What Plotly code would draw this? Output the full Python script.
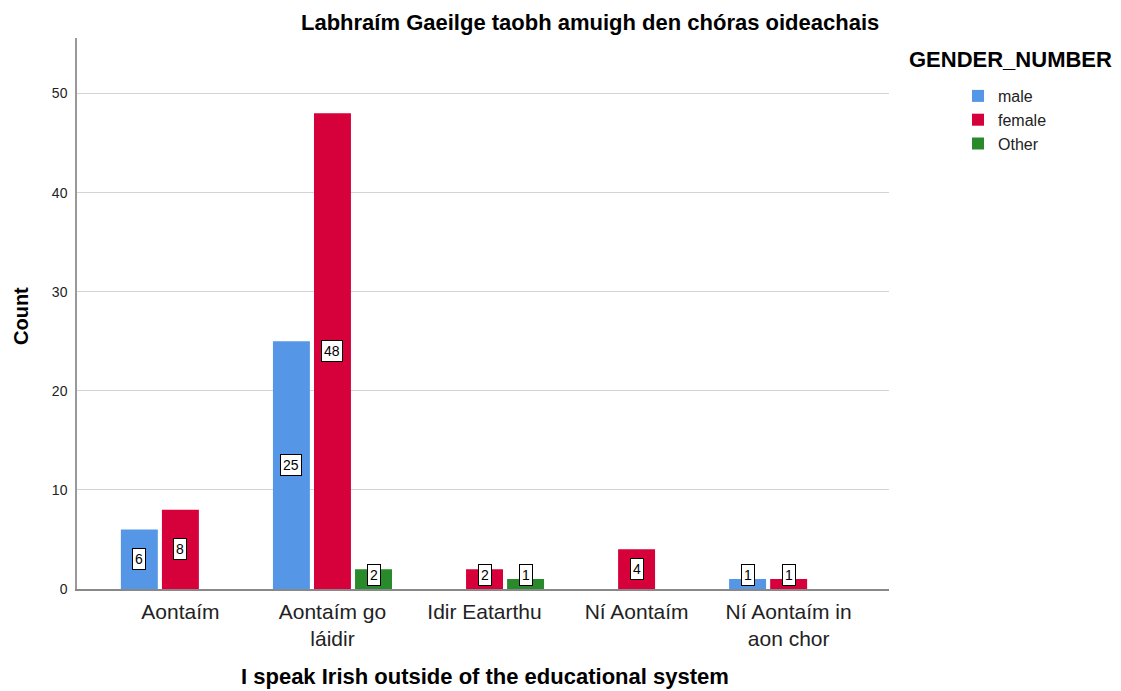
import plotly.graph_objects as go

categories = ["Aontaím", "Aontaím go<br>láidir", "Idir Eatarthu", "Ní Aontaím", "Ní Aontaím in<br>aon chor"]
male = [6, 25, 0, 0, 1]
female = [8, 48, 2, 4, 1]
other = [0, 2, 1, 0, 0]
series_names = ["male", "female", "Other"]
colors = ["#5596E6", "#D6003A", "#288A2A"]

OFF = 8  # default page body margin
W, H = 1121 - OFF, 691 - OFF
L, T, R, B = 77 - OFF, 38 - OFF, 232, 102
pw = W - L - R
ph = H - T - B

fig = go.Figure()
for name, vals, col in zip(series_names, [male, female, other], colors):
    fig.add_trace(go.Bar(
        x=categories, y=[v if v else None for v in vals], name=name,
        marker=dict(color=col, line=dict(width=0)),
    ))

slot = 152 * (1 - 0.19) / 3
for k, vals in enumerate([male, female, other]):
    for c, v in zip(categories, vals):
        if v:
            fig.add_annotation(
                x=c, y=max(v / 2, 1.46), xref="x", yref="y",
                text=str(v), showarrow=False, xshift=(k - 1) * slot,
                xanchor="center", yanchor="middle",
                font=dict(family="Liberation Sans, Arial", size=14, color="black"),
                bgcolor="white", bordercolor="black", borderwidth=1, borderpad=2,
            )

# reference-pixel helpers
def px_x(x):
    return (x - OFF - L) / pw

def px_y(y):
    return (H - B - (y - OFF)) / ph

FONT = "Liberation Sans, Arial"
def label(x, y, text, size, angle=0):
    fig.add_annotation(x=px_x(x), y=px_y(y), xref="paper", yref="paper",
                       xanchor="center", yanchor="middle", textangle=angle,
                       text=text, showarrow=False,
                       font=dict(family=FONT, size=size, color="black"))

label(590, 22, "<b>Labhraím Gaeilge taobh amuigh den chóras oideachais</b>", 22)
label(485, 676, "<b>I speak Irish outside of the educational system</b>", 22)
label(21, 316, "<b>Count</b>", 20, -90)
label(1010, 60, "<b>GENDER_NUMBER</b>", 22)

fig.update_layout(
    width=W, height=H,
    margin=dict(l=L, r=R, t=T, b=B),
    paper_bgcolor="white", plot_bgcolor="white",
    barmode="group", bargap=0.19, bargroupgap=0.1,
    font=dict(family=FONT, color="black"),
    showlegend=True,
    legend=dict(x=px_x(958), y=px_y(79), xanchor="left", yanchor="top",
                font=dict(size=16, color="#222"), tracegroupgap=0,
                bgcolor="rgba(0,0,0,0)"),
    xaxis=dict(range=[-0.68, 4.66], showline=True, linecolor="#888", linewidth=1.5,
               ticks="", tickfont=dict(size=21, color="#222"), showgrid=False,
               ticklabelstandoff=3),
    yaxis=dict(range=[0, 55.6], showline=True, linecolor="#999", linewidth=1.5,
               ticks="", tickvals=[0, 10, 20, 30, 40, 50], tickfont=dict(size=14, color="#222"),
               showgrid=True, gridcolor="#D4D4D4", gridwidth=1.2, zeroline=False,
               ticklabelstandoff=5),
)

fig.write_html("out.html")
